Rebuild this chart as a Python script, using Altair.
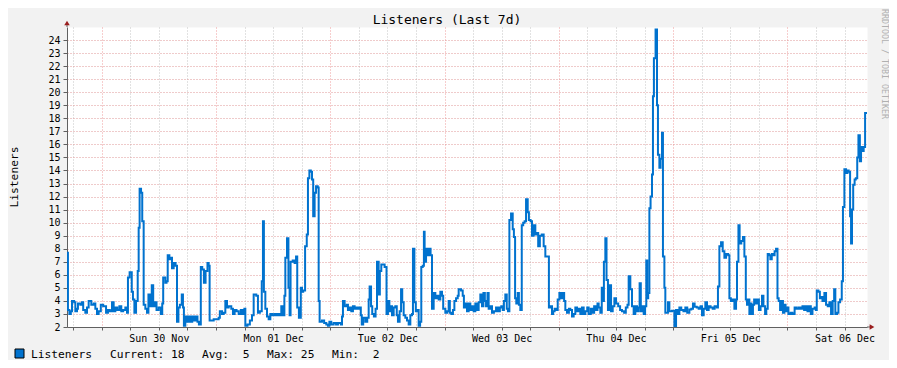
import altair as alt
import pandas as pd

# ---------------- data ----------------
START = "2025-11-29 16:43:00"   # left edge of the 7 day window
SPAN_HOURS = 168

# hours after START (sample time) and listener counts
hours = [
    0.0, 0.2, 0.5, 0.8, 1.05, 1.5, 1.75, 2.1, 2.3, 2.8, 3.15, 3.4, 3.85, 4.2, 4.55, 5.1, 5.6, 5.95,
    6.3, 6.65, 7.1, 7.6, 8.2, 8.6, 9.0, 9.45, 9.8, 10.15, 10.55, 11.0, 11.4, 11.8, 12.25, 12.6,
    12.8, 13.15, 13.6, 13.85, 14.15, 14.5, 14.85, 15.05, 15.25, 15.55, 15.8, 16.1, 16.45, 16.8,
    17.1, 17.4, 17.8, 18.1, 18.5, 18.8, 19.25, 19.7, 20.0, 20.2, 20.65, 20.9, 21.15, 21.5, 21.8,
    22.05, 22.4, 22.8, 23.1, 23.4, 23.7, 24.1, 24.35, 24.55, 24.85, 25.25, 25.6, 26.0, 26.3, 26.7,
    27.0, 27.4, 27.7, 28.1, 28.4, 28.75, 29.1, 29.5, 29.75, 29.95, 30.8, 31.35, 31.85, 32.1,
    32.55, 32.9, 33.25, 33.6, 33.95, 34.5, 34.85, 35.2, 35.6, 36.05, 36.5, 36.9, 37.25, 37.45,
    37.9, 38.4, 38.85, 39.2, 39.75, 40.1, 40.5, 40.9, 41.15, 41.35, 41.65, 42.0, 42.35, 42.7,
    43.05, 43.5, 43.9, 44.3, 44.7, 45.0, 45.35, 45.65, 45.85, 46.2, 46.5, 46.75, 46.95, 47.4,
    47.8, 48.1, 48.35, 48.7, 49.1, 49.35, 49.6, 50.0, 50.35, 50.6, 50.9, 51.2, 51.45, 51.7, 52.0,
    52.3, 52.65, 52.85, 53.05, 53.55, 54.0, 54.45, 54.8, 55.1, 55.5, 56.0, 56.5, 56.9, 57.5,
    57.75, 57.95, 58.3, 58.75, 59.0, 59.4, 59.7, 60.05, 60.4, 60.75, 61.1, 61.4, 61.7, 61.9,
    62.2, 62.65, 63.05, 63.35, 63.55, 63.85, 64.1, 64.45, 64.8, 65.1, 65.45, 65.7, 66.0, 66.7,
    67.1, 67.4, 67.7, 68.0, 68.25, 68.6, 68.95, 69.25, 69.5, 69.85, 70.15, 70.4, 70.7, 71.05,
    71.4, 71.75, 72.1, 72.45, 72.65, 72.95, 73.25, 73.55, 73.85, 74.15, 74.4, 74.7, 74.95, 75.1,
    75.4, 75.75, 76.1, 76.35, 76.65, 77.0, 77.35, 77.7, 78.05, 78.4, 78.75, 79.0, 79.45, 79.85,
    80.15, 80.4, 80.7, 81.05, 81.35, 81.7, 82.05, 82.25, 82.75, 83.1, 83.35, 83.65, 84.0, 84.35,
    84.7, 85.05, 85.4, 85.75, 86.1, 86.45, 86.8, 87.15, 87.45, 87.75, 88.0, 88.3, 88.55, 88.9,
    89.25, 89.65, 90.1, 90.5, 90.9, 91.2, 91.5, 91.75, 92.05, 92.35, 92.6, 92.9, 93.25, 93.6,
    93.85, 94.1, 94.35, 94.65, 94.9, 95.2, 95.5, 95.8, 96.1, 96.4, 96.75, 97.0, 97.35, 97.65,
    98.0, 98.35, 98.7, 98.95, 99.3, 99.7, 100.1, 100.45, 101.2, 101.55, 101.85, 102.1, 102.4,
    102.75, 103.05, 103.4, 103.75, 104.05, 104.4, 104.65, 105.0, 105.4, 105.7, 106.05, 106.4,
    106.75, 107.1, 107.45, 107.8, 108.15, 108.5, 108.85, 109.25, 109.55, 110.0, 110.3, 110.7,
    111.05, 111.4, 111.65, 112.0, 112.3, 112.55, 112.75, 113.05, 113.3, 113.6, 113.95, 114.25,
    114.6, 114.95, 115.3, 115.75, 116.15, 116.55, 117.0, 117.35, 117.7, 117.95, 118.3, 118.65,
    119.0, 119.35, 119.7, 120.05, 120.25, 120.5, 120.8, 121.1, 121.4, 121.65, 121.85, 122.05,
    122.3, 122.55, 122.85, 123.05, 123.25, 123.6, 123.9, 124.1, 124.4, 124.65, 124.95, 125.15,
    125.45, 125.65, 126.2, 126.5, 127.05, 127.55, 127.9, 128.3, 128.6, 129.0, 129.45, 129.85,
    130.25, 130.7, 131.1, 131.45, 131.8, 132.25, 132.65, 133.05, 133.35, 133.7, 134.05, 134.4,
    134.75, 135.15, 135.6, 136.0, 136.45, 136.7, 137.0, 137.35, 137.7, 138.05, 138.4, 138.85,
    139.1, 139.4, 139.8, 140.15, 140.5, 140.7, 141.0, 141.25, 141.6, 141.95, 142.25, 142.55,
    142.8, 143.1, 143.3, 143.5, 143.75, 144.05, 144.3, 144.65, 145.05, 145.3, 145.65, 145.95,
    146.25, 146.6, 146.85, 147.15, 147.4, 147.7, 148.0, 148.3, 148.6, 148.9, 149.2, 149.45,
    149.75, 150.05, 150.35, 150.65, 150.9, 151.2, 151.5, 151.95, 152.35, 152.8, 153.2, 153.65,
    154.05, 154.45, 154.8, 155.15, 155.5, 155.9, 156.2, 156.55, 157.0, 157.25, 157.45, 157.8,
    158.1, 158.4, 158.65, 159.05, 159.4, 159.75, 160.1, 160.45, 160.8, 161.1, 161.35, 161.7,
    162.0, 162.35, 162.7, 162.95, 163.25, 163.6, 163.9, 164.15, 164.45, 164.65, 164.85, 165.1,
    165.4, 165.65, 165.95, 166.2, 166.5, 166.75, 167.05, 167.3, 167.6, 168.0,
]

listeners = [
    7.7, 3.3, 3.0, 3.2, 4.0, 3.9, 3.2, 3.4, 3.8, 3.7, 3.9, 3.3, 3.1, 3.5, 4.0, 3.7, 3.8, 3.4,
    3.0, 3.2, 3.7, 3.6, 3.1, 3.3, 3.2, 3.9, 3.2, 3.5, 3.3, 3.6, 3.2, 3.3, 3.5, 3.1,
    5.8, 6.2, 4.7, 4.1, 3.1, 4.0, 6.3, 9.6, 12.6, 12.3, 10.1, 3.7, 3.4, 3.1,
    4.5, 3.6, 5.2, 3.6, 3.9, 3.3, 3.5, 3.0, 3.8, 5.8, 5.4, 5.5, 7.5, 7.2, 7.3,
    6.5, 6.9, 6.7, 2.4, 3.5, 3.7, 4.5, 3.5, 2.1, 2.8, 2.4, 2.8, 2.4, 2.8, 2.5,
    2.8, 2.4, 2.2, 6.6, 6.4, 5.4, 6.3, 6.9, 6.7, 2.5, 2.6, 2.6, 2.7, 3.2,
    3.0, 3.1, 4.0, 3.5, 3.6, 3.4, 3.0, 3.3, 3.2, 3.0, 3.3, 3.0, 3.4, 2.1,
    2.2, 2.5, 2.9, 4.5, 4.4, 3.1, 3.2, 5.5, 10.1, 4.7, 3.4, 2.8, 2.6, 3.0,
    2.9, 3.0, 2.9, 3.0, 2.9, 3.6, 2.9, 4.4, 7.3, 8.8, 5.0, 2.9, 7.0, 7.1,
    6.9, 7.4, 3.5, 2.7, 5.0, 4.7, 4.8, 8.2, 9.1, 13.4, 14.0, 13.9, 13.3, 10.5, 12.3,
    12.8, 12.7, 4.0, 2.4, 2.5, 2.3, 2.2, 2.1, 2.4, 2.2, 2.3, 2.2, 2.3, 2.2,
    2.8, 4.0, 3.6, 3.7, 3.3, 3.5, 3.2, 3.6, 3.4, 3.5, 3.4, 3.5, 2.9, 2.2,
    2.7, 2.4, 2.7, 4.1, 5.1, 3.6, 3.0, 2.8, 3.4, 7.0, 4.5, 6.3, 6.8, 6.6,
    3.0, 4.0, 3.2, 3.6, 2.9, 3.5, 3.6, 2.9, 2.4, 3.2, 4.9, 3.9, 2.9, 2.7,
    2.5, 2.2, 2.9, 3.0, 8.0, 3.9, 3.2, 3.3, 2.1, 2.4, 6.6, 6.7, 9.3, 7.0,
    8.0, 7.5, 8.0, 7.5, 3.4, 4.6, 4.2, 4.4, 4.1, 4.7, 4.4, 3.4, 3.1, 3.2,
    4.0, 3.1, 3.0, 3.3, 4.0, 4.2, 4.4, 4.9, 4.8, 4.4, 3.5, 3.8, 3.2, 3.8,
    3.3, 3.6, 3.2, 3.8, 3.3, 3.9, 4.5, 3.6, 4.6, 4.0, 3.6, 4.6, 3.4, 3.6,
    3.1, 3.2, 3.5, 3.2, 3.5, 3.6, 3.3, 4.0, 4.5, 3.4, 3.2, 10.2, 10.7, 9.5,
    8.9, 4.2, 3.8, 4.6, 3.7, 3.3, 9.8, 10.0, 10.1, 11.8, 10.8, 10.2, 10.1, 9.0,
    9.8, 9.1, 9.2, 8.2, 9.0, 9.1, 8.2, 7.4, 3.5, 3.6, 3.0, 3.2, 3.4,
    3.3, 4.1, 4.6, 4.2, 4.6, 4.0, 3.3, 3.1, 3.4, 3.3, 2.8, 3.0,
    3.5, 3.2, 3.4, 3.0, 3.5, 3.0, 3.2, 3.5, 3.0, 3.4, 3.1, 3.6,
    3.3, 3.8, 3.5, 3.1, 5.0, 4.0, 7.0, 8.8, 5.6, 3.3, 5.2, 3.2,
    3.6, 4.2, 3.8, 3.6, 3.3, 3.2, 3.1, 3.5, 3.7, 5.9, 4.9, 3.6,
    3.0, 3.6, 3.2, 3.5, 5.35, 3.2, 3.6, 3.0, 3.6, 7.1, 4.2, 4.6,
    11.1, 12.0, 13.7, 19.7, 22.6, 24.8, 19.0, 15.2, 14.2, 14.9, 16.9, 7.4,
    5.0, 3.1, 3.9, 3.2, 3.25, 2.0, 3.3, 3.0, 3.5, 3.3, 3.2, 3.5,
    3.1, 3.35, 3.4, 3.8, 3.55, 3.5, 3.4, 3.6, 2.9, 3.4, 3.9, 3.3,
    3.6, 3.5, 3.4, 3.6, 3.5, 5.1, 8.2, 8.5, 7.8, 7.3, 7.6, 7.5,
    4.2, 4.0, 4.1, 3.4, 4.1, 7.0, 9.8, 8.4, 8.6, 8.9, 7.4, 4.1,
    3.7, 4.1, 3.0, 3.8, 3.0, 3.7, 4.1, 3.8, 4.1, 3.3, 3.6, 4.4,
    3.6, 3.0, 3.4, 7.6, 7.5, 7.2, 7.6, 7.5, 7.8, 8.0, 4.2, 4.0,
    3.3, 4.0, 3.1, 3.7, 3.2, 3.5, 3.0, 3.1, 3.0, 3.5, 3.4, 3.5,
    3.4, 3.6, 3.3, 3.6, 3.2, 3.6, 3.0, 3.4, 3.5, 3.3, 4.8, 4.7,
    4.2, 4.3, 4.0, 4.6, 3.7, 3.6, 3.9, 3.0, 4.0, 4.9, 3.0, 3.1,
    3.9, 4.1, 5.5, 11.2, 14.1, 13.8, 14.0, 13.9, 10.5, 8.4, 11.0, 12.9,
    13.3, 13.4, 15.0, 16.7, 14.7, 15.8, 15.5, 15.8, 18.4, 18.4,
]

TITLE = "Listeners (Last 7d)"
SERIES = "Listeners"
WATERMARK = "RRDTOOL / TOBI OETIKER"
Y_TICKS = list(range(2, 25))
Y_DOMAIN = [2, 25]
TICK_STEP = "6h"

# ---------------- styling ----------------
FONT = "DejaVu Sans Mono"
LINE_COLOR = "#0072CE"
AXIS_COLOR = "#606060"
ARROW_COLOR = "#9A1E1E"
HGRID = "#DE9696"
VGRID = "#C4C4C4"
MGRID = "#EE9C9C"

start = pd.Timestamp(START)
end = start + pd.Timedelta(hours=SPAN_HOURS)
df = pd.DataFrame({
    "time": start + pd.to_timedelta(hours, unit="h"),
    "value": listeners,
})

cur = listeners[-1]
avg = sum(listeners) / len(listeners)
mx = max(listeners)
mn = min(listeners)
NB = "\u00a0"
legend_items = [
    SERIES,
    f"Current:{NB}{cur:2.0f}".replace(" ", NB),
    f"Avg:{NB}{avg:2.0f}".replace(" ", NB),
    f"Max:{NB}{mx:2.0f}".replace(" ", NB),
    f"Min:{NB}{mn:2.0f}".replace(" ", NB),
]
legend_x = [-36, 43, 135, 200, 265]


def dt(t):
    return alt.DateTime(year=t.year, month=t.month, date=t.day, hours=t.hour, minutes=t.minute)


tick_times = pd.date_range(start.ceil("6h"), end, freq=TICK_STEP)

x_axis = alt.Axis(
    values=[dt(t) for t in tick_times],
    labelExpr="hours(datum.value) == 12 ? timeFormat(datum.value, '%a %d %b') : ''",
    labelOverlap=False,
    labelFlush=False,
    labelFont=FONT,
    labelFontSize=10,
    labelColor="#000000",
    labelPadding=3,
    tickSize=3,
    tickColor=AXIS_COLOR,
    domainColor=AXIS_COLOR,
    grid=True,
    gridColor={"condition": {"test": "hours(datum.value) == 0", "value": MGRID}, "value": VGRID},
    gridDash=[1, 2],
    title=None,
)

y_axis = alt.Axis(
    values=Y_TICKS,
    labelFont=FONT,
    labelFontSize=10,
    labelColor="#000000",
    labelPadding=3,
    tickSize=4,
    tickColor=AXIS_COLOR,
    domainColor=AXIS_COLOR,
    grid=True,
    gridColor=HGRID,
    gridDash=[1, 2],
    title=None,
)

line = alt.Chart(df).mark_line(
    interpolate="step-after", color=LINE_COLOR, strokeWidth=2, clip=True
).encode(
    x=alt.X("time:T", scale=alt.Scale(domain=[dt(start), dt(end)]), axis=x_axis),
    y=alt.Y("value:Q", scale=alt.Scale(domain=Y_DOMAIN, nice=False, zero=False), axis=y_axis),
)

one = pd.DataFrame({"k": [0]})

title = alt.Chart(one).mark_text(
    text=TITLE, font=FONT, fontSize=13, color="#000000", align="center", baseline="alphabetic"
).encode(x=alt.value(380), y=alt.value(-3))

ytitle = alt.Chart(one).mark_text(
    text=SERIES, font=FONT, fontSize=11.25, color="#000000", align="center",
    baseline="alphabetic", angle=270
).encode(x=alt.value(-49), y=alt.value(150))

wmark = alt.Chart(one).mark_text(
    text=WATERMARK, font=FONT, fontSize=8.3, color="#B0B0B0", align="left",
    baseline="alphabetic", angle=90
).encode(x=alt.value(815), y=alt.value(-18))

y_ext = alt.Chart(one).mark_rule(color=AXIS_COLOR, strokeWidth=1).encode(
    x=alt.value(0), y=alt.value(-4), y2=alt.value(0)
)
x_ext = alt.Chart(one).mark_rule(color=AXIS_COLOR, strokeWidth=1).encode(
    x=alt.value(800), x2=alt.value(804), y=alt.value(300)
)
up_arrow = alt.Chart(one).mark_point(
    shape="triangle-up", filled=True, size=30, color=ARROW_COLOR, opacity=1
).encode(x=alt.value(0), y=alt.value(-4))
right_arrow = alt.Chart(one).mark_point(
    shape="triangle-right", filled=True, size=30, color=ARROW_COLOR, opacity=1
).encode(x=alt.value(805), y=alt.value(300))

legend_box = alt.Chart(one).mark_rect(
    fill=LINE_COLOR, stroke="#000000", strokeWidth=1
).encode(x=alt.value(-52), x2=alt.value(-43), y=alt.value(322), y2=alt.value(331))

legend_df = pd.DataFrame({"label": legend_items, "px": legend_x})
legend_text = alt.Chart(legend_df).mark_text(
    font=FONT, fontSize=11.25, color="#000000", align="left", baseline="alphabetic"
).encode(text="label:N", x=alt.X("px:Q", scale=None), y=alt.value(331))

chart = alt.layer(
    line, y_ext, x_ext, up_arrow, right_arrow, title, ytitle, wmark, legend_box, legend_text
).properties(
    width=800,
    height=300,
    padding={"left": 59, "top": 19, "right": 22, "bottom": 33},
    autosize=alt.AutoSizeParams(type="none"),
    background="#F2F2F2",
).configure_view(
    fill="#FFFFFF", stroke="transparent"
)

chart.save("out.html", embed_options={"renderer": "svg", "actions": False})
